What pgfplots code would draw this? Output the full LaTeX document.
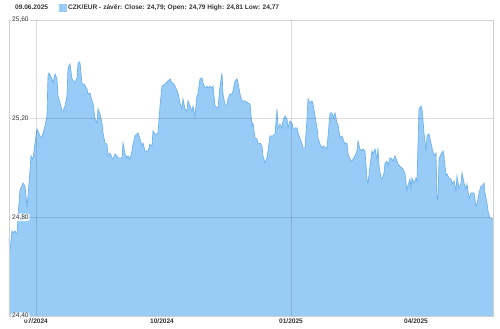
\documentclass[border=0pt]{standalone}
\usepackage{pgfplots}
\pgfplotsset{compat=1.18}
\usepackage{pgfplotstable}
\usepackage{fontspec}
\setmainfont{Liberation Sans}
\definecolor{areafill}{RGB}{152,204,247}
\definecolor{arealine}{RGB}{110,178,235}
\definecolor{txt}{RGB}{51,51,51}
\pgfplotstableread{
x y
9 24.716
10 24.664
12 24.745
13 24.736
15 24.745
16 24.736
17 24.732
18 24.805
20 24.910
23 24.939
25 24.927
27 24.842
29 24.935
31 25.049
33 25.036
35 25.101
37 25.158
38 25.150
40 25.130
42 25.122
43 25.142
45 25.170
47 25.211
48 25.373
49 25.385
52 25.361
53 25.345
55 25.381
57 25.361
58 25.292
60 25.264
62 25.231
63 25.231
65 25.251
67 25.292
68 25.405
70 25.422
72 25.361
75 25.345
77 25.365
78 25.422
79 25.430
80 25.426
82 25.341
84 25.341
87 25.320
88 25.300
90 25.304
92 25.272
93 25.264
95 25.199
97 25.182
98 25.239
100 25.219
102 25.182
103 25.142
105 25.101
107 25.097
108 25.049
110 25.061
112 25.041
113 25.036
115 25.057
117 25.049
118 25.041
122 25.041
123 25.101
125 25.057
127 25.041
128 25.049
130 25.036
132 25.069
133 25.097
135 25.130
137 25.138
138 25.142
140 25.118
142 25.089
143 25.101
145 25.069
147 25.069
148 25.069
150 25.097
152 25.089
153 25.150
155 25.138
157 25.138
158 25.142
160 25.251
162 25.332
165 25.341
168 25.353
170 25.361
172 25.345
173 25.345
175 25.332
177 25.312
178 25.304
180 25.264
182 25.239
183 25.280
185 25.239
187 25.231
188 25.272
190 25.251
192 25.231
193 25.251
195 25.211
197 25.292
198 25.300
200 25.361
202 25.365
203 25.345
205 25.324
207 25.332
208 25.324
210 25.332
212 25.324
213 25.332
215 25.251
218 25.243
220 25.332
222 25.385
223 25.300
225 25.259
227 25.259
228 25.280
230 25.300
232 25.300
233 25.312
235 25.353
237 25.361
238 25.345
240 25.300
242 25.272
245 25.272
248 25.264
250 25.259
252 25.170
253 25.182
255 25.122
257 25.118
258 25.097
260 25.101
262 25.089
263 25.049
265 25.020
267 25.041
268 25.069
270 25.130
272 25.130
273 25.130
275 25.138
277 25.239
278 25.162
280 25.178
282 25.162
283 25.191
285 25.211
287 25.199
288 25.162
290 25.191
292 25.182
293 25.162
295 25.162
297 25.162
298 25.142
300 25.122
302 25.097
303 25.081
305 25.081
307 25.199
308 25.280
310 25.264
312 25.272
313 25.259
315 25.211
317 25.162
318 25.122
320 25.097
322 25.081
323 25.089
327 25.081
328 25.126
330 25.223
332 25.223
333 25.203
335 25.223
337 25.182
338 25.178
340 25.122
342 25.130
343 25.118
345 25.097
347 25.101
348 25.057
350 25.036
352 25.028
353 25.036
355 25.049
357 25.069
358 25.109
360 25.077
362 25.069
363 25.077
365 25.069
367 24.955
368 24.935
370 25.008
372 25.069
373 25.057
375 25.077
377 25.036
378 25.081
379 25.008
381 24.959
382 24.955
384 24.980
385 25.020
387 25.028
388 25.008
390 25.041
392 25.036
393 25.028
395 25.049
397 25.028
398 25.016
400 25.008
402 25.000
403 24.996
405 24.975
407 24.907
408 24.930
410 24.955
411 24.919
412 24.959
414 24.939
416 24.959
417 24.947
419 25.239
421 25.251
422 25.239
424 25.142
426 25.069
427 25.130
429 25.138
431 25.101
432 25.081
434 25.049
436 25.061
437 24.874
438 24.874
439 25.036
441 25.057
443 25.069
444 25.049
446 24.968
447 24.976
449 24.959
451 24.955
452 24.935
454 24.947
456 24.907
457 24.968
459 24.915
461 24.939
462 24.980
464 24.939
466 24.915
467 24.935
469 24.878
471 24.899
472 24.899
474 24.899
476 24.846
477 24.854
479 24.899
481 24.927
482 24.927
484 24.939
485 24.899
487 24.858
488 24.826
490 24.797
493 24.793
}\czk
\begin{document}
\begin{tikzpicture}
\useasboundingbox (0,0) rectangle (500bp,329bp);
\begin{axis}[
  at={(9bp,13bp)}, anchor=south west,
  scale only axis, width=484bp, height=296bp,
  xmin=9, xmax=493, ymin=24.4, ymax=25.6,
  axis on top,
  ytick={24.4,24.8,25.2,25.6},
  xtick={36,162,291,416},
  xticklabels={07/2024,10/2024,01/2025,04/2025},
  major tick length=0pt,
  tick style={draw=none},
  ymajorgrids,
  extra x ticks={36,291}, extra x tick labels={},
  extra x tick style={grid=major, major tick length=0pt, tick style={draw=none}},
  grid style={black, opacity=0.13, line width=0.6pt},
  axis line style={black!18, line width=0.6pt},
  /pgf/number format/use comma,
  /pgf/number format/fixed,
  /pgf/number format/fixed zerofill,
  /pgf/number format/precision=2,
  /pgf/number format/assume math mode=true,
  yticklabel style={anchor=west, xshift=2bp, font=\fontsize{6.6}{7}\selectfont, text=txt,
    fill=white, fill opacity=0.85, text opacity=1, rounded corners=1.5pt, inner sep=1pt},
  xticklabel style={font=\fontsize{6.6}{7}\selectfont\bfseries, text=txt, inner sep=1bp, yshift=-2bp},
  legend style={draw=none, fill=none, at={(0.1033,1.0405)}, anchor=west,
    font=\fontsize{6.6}{7}\selectfont\bfseries, text=txt, inner sep=0pt,
    nodes={inner sep=1bp}},
  legend cell align=left,
]
\addplot[draw=none, fill=areafill,
  legend image code/.code={\fill[areafill] (0bp,-4bp) rectangle (8bp,4bp);}]
  table[x=x,y=y]{\czk} \closedcycle;
\addlegendentry{CZK/EUR - závěr: Close: 24,79; Open: 24,79 High: 24,81 Low: 24,77}
\addplot[arealine, line width=0.7pt, forget plot] table[x=x,y=y]{\czk};
\end{axis}
\node[anchor=west, inner sep=0pt, font=\fontsize{6.6}{7}\selectfont\bfseries, text=txt] at (15bp,322bp) {09.06.2025};
\end{tikzpicture}
\end{document}
